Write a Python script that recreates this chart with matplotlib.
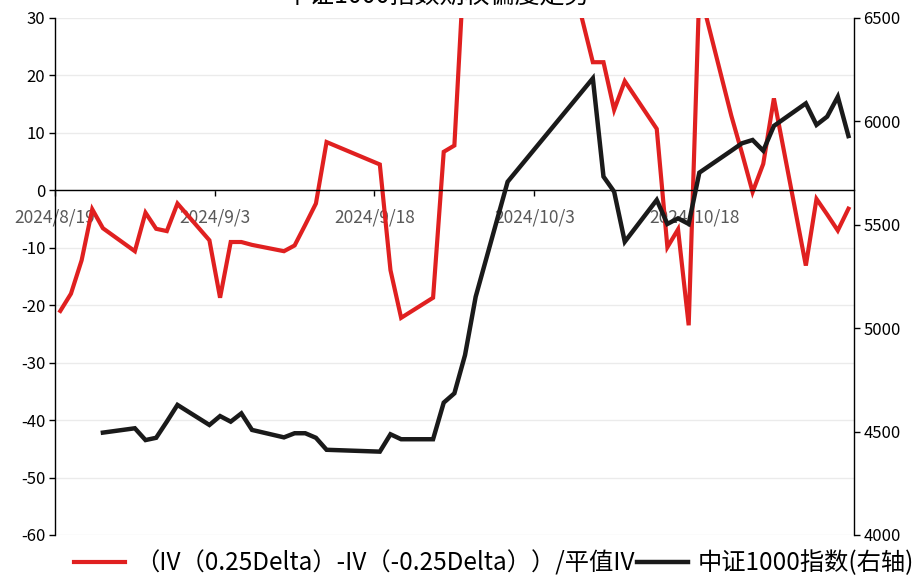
import numpy as np
import matplotlib
matplotlib.use("Agg")
import matplotlib.pyplot as plt
import matplotlib.dates as mdates
from matplotlib.ticker import FuncFormatter
from datetime import datetime, timedelta

plt.rcParams['font.family'] = ['Noto Sans CJK SC', 'DejaVu Sans']
plt.rcParams['axes.unicode_minus'] = False

# trading days shown on the chart
dates = ["2024-08-19", "2024-08-20", "2024-08-21", "2024-08-22", "2024-08-23",
         "2024-08-26", "2024-08-27", "2024-08-28", "2024-08-29", "2024-08-30",
         "2024-09-02", "2024-09-03", "2024-09-04", "2024-09-05", "2024-09-06",
         "2024-09-09", "2024-09-10", "2024-09-11", "2024-09-12", "2024-09-13",
         "2024-09-18", "2024-09-19", "2024-09-20", "2024-09-23", "2024-09-24",
         "2024-09-25", "2024-09-26", "2024-09-27", "2024-09-30", "2024-10-08",
         "2024-10-09", "2024-10-10", "2024-10-11", "2024-10-14", "2024-10-15",
         "2024-10-16", "2024-10-17", "2024-10-18", "2024-10-21", "2024-10-22",
         "2024-10-23", "2024-10-24", "2024-10-25", "2024-10-28", "2024-10-29",
         "2024-10-30", "2024-10-31", "2024-11-01"]

# (IV(0.25D) - IV(-0.25D)) / ATM IV, left axis
skew = [-21.0, -18.0, -12.2, -3.3, -6.6,
        -10.6, -3.9, -6.7, -7.1, -2.3,
        -8.7, -18.7, -9.0, -9.0, -9.5,
        -10.6, -9.6, -6.0, -2.3, 8.4,
        4.5, -13.9, -22.2, -18.7, 6.7,
        7.8, 42.0, 65.0, 82.0, 22.3,
        22.3, 14.0, 19.0, 10.7, -9.9,
        -6.8, -23.5, 35.0, 13.0, 6.5,
        -0.3, 4.6, 16.0, -13.1, -1.5,
        -4.2, -7.0, -3.2]

# CSI 1000 index, right axis (no values before 8/23)
index = [np.nan, np.nan, np.nan, np.nan, 4495,
         4516, 4459, 4470, 4548, 4629,
         4532, 4575, 4548, 4588, 4508,
         4472, 4492, 4492, 4470, 4412,
         4403, 4487, 4463, 4463, 4640,
         4685, 4870, 5152, 5708, 6208,
         5733, 5660, 5418, 5620, 5504,
         5531, 5504, 5752, 5858, 5894,
         5910, 5858, 5978, 6087, 5983,
         6023, 6119, 5929]

tick_dates = ["2024-08-19", "2024-09-03", "2024-09-18", "2024-10-03", "2024-10-18"]

red = "#e02020"
black = "#1a1a1a"

d0 = datetime(2024, 8, 19)
x = [mdates.date2num(datetime.strptime(d, "%Y-%m-%d") + timedelta(hours=12)) for d in dates]

fig = plt.figure(figsize=(9.24, 5.76), dpi=100)
ax = fig.add_axes([0.0595, 0.0712, 0.8645, 0.8976])
ax2 = ax.twinx()

l1, = ax.plot(x, skew, color=red, lw=3.0, solid_joinstyle="miter")
l2, = ax2.plot(x, index, color=black, lw=3.2, solid_joinstyle="miter")

ax.set_ylim(-60, 30)
ax.set_yticks(np.arange(-60, 31, 10))
ax2.set_ylim(4000, 6500)
ax2.set_yticks(np.arange(4000, 6501, 500))

ax.set_xlim(mdates.date2num(d0), mdates.date2num(d0 + timedelta(days=75)))
ax.set_xticks([mdates.date2num(datetime.strptime(d, "%Y-%m-%d")) for d in tick_dates])


def fmt_date(v, pos):
    d = mdates.num2date(v)
    return f"{d.year}/{d.month}/{d.day}"


ax.xaxis.set_major_formatter(FuncFormatter(fmt_date))

ax.grid(axis="y", color="#ebebeb", lw=1.0)
ax.set_axisbelow(True)

ax.spines["top"].set_visible(False)
ax.spines["right"].set_visible(False)
ax2.spines["top"].set_visible(False)
ax2.spines["bottom"].set_visible(False)
ax2.spines["left"].set_visible(False)
ax.spines["bottom"].set_position(("data", 0))
ax.spines["bottom"].set_linewidth(1.0)
ax.spines["left"].set_linewidth(1.0)
ax2.spines["right"].set_linewidth(1.0)

ax.tick_params(axis="x", direction="out", length=4, width=1, pad=9,
               labelsize=12.5, labelcolor="#595959")
ax.tick_params(axis="y", direction="out", length=4, width=1, labelsize=12, pad=3)
ax2.tick_params(axis="y", direction="out", length=4, width=1, labelsize=12, pad=3)

# title is partly above the top edge, as in the source image
fig.text(0.473, 1.008, "中证1000指数期权偏度走势", ha="center", va="center",
         fontsize=18)

fig.legend([l1, l2], ["（IV（0.25Delta）-IV（-0.25Delta））/平值IV", "中证1000指数(右轴)"],
           loc="center", bbox_to_anchor=(0.535, 0.022), ncol=2, frameon=False,
           fontsize=17.5, handlelength=2.1, columnspacing=0.1, handletextpad=0.4)

fig.savefig("out.png", dpi=100)
